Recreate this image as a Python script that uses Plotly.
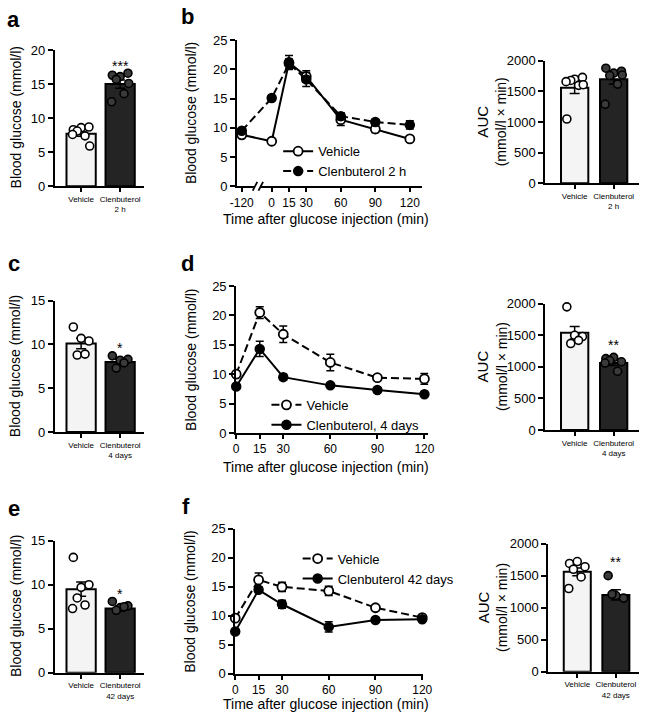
import plotly.graph_objects as go

W, H = 649, 721
FONT = "Liberation Sans, Arial, sans-serif"

# ---------------- data ----------------
groups = ["Vehicle", "Clenbuterol"]

# Panel a (fasting glucose, 2 h)
a_veh = [8.3, 8.6, 8.7, 8.1, 7.4, 7.6, 5.9]
a_clen = [16.3, 16.1, 16.6, 15.7, 13.6, 12.4, 15.1]
a_mean = [7.7, 15.0]
a_sem = [0.35, 0.6]

# Panel b (GTT, 2 h)
b_time = [-120, 0, 15, 30, 60, 90, 120]
b_veh = [8.8, 7.7, 21.2, 18.8, 11.4, 9.8, 8.1]
b_veh_err = [0.3, 0.3, 1.2, 1.0, 1.0, 0.6, 0.3]
b_clen = [9.5, 15.1, 21.0, 18.3, 12.0, 11.0, 10.5]
b_clen_err = [0.3, 0.4, 0.8, 1.2, 0.6, 0.4, 0.7]
b_auc_veh = [1050, 1700, 1730, 1680, 1600, 1660, 1610]
b_auc_clen = [1880, 1800, 1830, 1760, 1620, 1290, 1770]
b_auc_mean = [1560, 1700]
b_auc_sem = [95, 80]

# Panel c (fasting glucose, 4 days)
c_veh = [12.0, 10.7, 10.4, 8.8, 8.9]
c_clen = [8.7, 8.2, 8.3, 7.3, 7.9]
c_mean = [10.1, 8.0]
c_sem = [0.6, 0.3]

# Panel d (GTT, 4 days)
d_time = [0, 15, 30, 60, 90, 120]
d_veh = [10.0, 20.5, 16.8, 12.0, 9.4, 9.2]
d_veh_err = [0.5, 1.0, 1.4, 1.4, 0.4, 0.9]
d_clen = [7.9, 14.3, 9.5, 8.1, 7.3, 6.6]
d_clen_err = [0.3, 1.3, 0.5, 0.3, 0.3, 0.3]
d_auc_veh = [1950, 1500, 1480, 1370, 1420]
d_auc_clen = [1130, 1150, 1080, 1100, 930, 1060]
d_auc_mean = [1540, 1060]
d_auc_sem = [100, 40]

# Panel e (fasting glucose, 42 days)
e_veh = [13.1, 9.7, 10.0, 8.5, 7.7, 7.3]
e_clen = [8.1, 7.4, 7.6, 7.1, 7.5]
e_mean = [9.5, 7.3]
e_sem = [0.8, 0.3]

# Panel f (GTT, 42 days)
f_time = [0, 15, 30, 60, 90, 120]
f_veh = [9.6, 16.2, 15.0, 14.3, 11.4, 9.7]
f_veh_err = [0.4, 1.2, 0.8, 0.8, 0.3, 0.3]
f_clen = [7.3, 14.5, 12.0, 8.1, 9.3, 9.4]
f_clen_err = [0.3, 0.4, 0.7, 0.9, 0.3, 0.3]
f_auc_veh = [1690, 1720, 1640, 1600, 1480, 1300]
f_auc_clen = [1500, 1190, 1150, 1210]
f_auc_mean = [1560, 1200]
f_auc_sem = [60, 80]

# ---------------- helpers ----------------
def xd(x0, x1):
    return [x0 / W, x1 / W]

def yd(top, bottom):
    return [1 - bottom / H, 1 - top / H]

JIT = [-0.2, 0.0, 0.2, -0.1, 0.1, -0.22, 0.22]

def jitter(center, n):
    return [center + JIT[i % len(JIT)] for i in range(n)]

LIGHT = "#f4f4f4"
DARK = "#242424"
PTDARK = "#3a3a3a"
DASH = "8px,4px"

fig = go.Figure()
layout = dict(
    width=W, height=H, margin=dict(l=0, r=0, t=0, b=0),
    paper_bgcolor="white", plot_bgcolor="white", showlegend=True,
    font=dict(family=FONT, size=13, color="black"),
    annotations=[], shapes=[],
)

def axis_style(**kw):
    d = dict(showline=True, linecolor="black", linewidth=2, ticks="outside",
             ticklen=5, tickwidth=1.5, tickcolor="black", showgrid=False,
             zeroline=False, tickfont=dict(family=FONT, size=13, color="black"))
    d.update(kw)
    return d

def bar_panel(i, xdom, ydom, veh, clen, mean, sem, ymax, dtick, star, star_y, cat2, bw, xr):
    xa, ya = f"x{i}", f"y{i}"
    fig.add_trace(go.Bar(
        x=[0, 1], y=mean, width=bw, xaxis=xa, yaxis=ya, showlegend=False,
        marker=dict(color=[LIGHT, DARK], line=dict(color="black", width=2)),
        error_y=dict(type="data", array=sem, color="black", thickness=1.5, width=5),
    ))
    fig.add_trace(go.Scatter(
        x=jitter(0, len(veh)), y=veh, mode="markers", xaxis=xa, yaxis=ya, showlegend=False,
        cliponaxis=False,
        marker=dict(size=8, color="white", line=dict(color="black", width=1.6)),
    ))
    fig.add_trace(go.Scatter(
        x=jitter(1, len(clen)), y=clen, mode="markers", xaxis=xa, yaxis=ya, showlegend=False,
        cliponaxis=False,
        marker=dict(size=8, color=PTDARK, line=dict(color="black", width=1.6)),
    ))
    layout[f"xaxis{i}"] = axis_style(
        domain=xdom, range=xr, anchor=ya, tickvals=[0, 1], ticklen=4,
        ticktext=["Vehicle", "Clenbuterol<br>" + cat2],
        tickfont=dict(family=FONT, size=8, color="black"))
    layout[f"yaxis{i}"] = axis_style(domain=ydom, range=[0, ymax], anchor=xa,
                                     tickvals=list(range(0, int(ymax) + 1, dtick)))
    if star:
        layout["annotations"].append(dict(
            x=1, y=star_y, xref=xa, yref=ya, text=star, showarrow=False,
            font=dict(family=FONT, size=14, color="black")))

def line_panel(i, xdom, ydom, xpos, ticktext, xr, veh, veh_err, clen, clen_err,
               veh_dash, clen_dash, clen_name, legend):
    xa, ya = f"x{i}", f"y{i}"
    fig.add_trace(go.Scatter(
        x=xpos, y=veh, mode="lines+markers", name="Vehicle", xaxis=xa, yaxis=ya,
        legend=legend, cliponaxis=False,
        line=dict(color="black", width=2, dash=veh_dash),
        marker=dict(size=9, color="white", line=dict(color="black", width=1.8)),
        error_y=dict(type="data", array=veh_err, color="black", thickness=1.5, width=4),
    ))
    fig.add_trace(go.Scatter(
        x=xpos, y=clen, mode="lines+markers", name=clen_name, xaxis=xa, yaxis=ya,
        legend=legend, cliponaxis=False,
        line=dict(color="black", width=2, dash=clen_dash),
        marker=dict(size=9, color="black", line=dict(color="black", width=1.5)),
        error_y=dict(type="data", array=clen_err, color="black", thickness=1.5, width=4),
    ))
    layout[f"xaxis{i}"] = axis_style(domain=xdom, range=xr, anchor=ya, ticklen=4,
                                     tickvals=xpos, ticktext=ticktext,
                                     tickfont=dict(family=FONT, size=12, color="black"))
    layout[f"yaxis{i}"] = axis_style(domain=ydom, range=[0, 25], anchor=xa,
                                     tickvals=[0, 5, 10, 15, 20, 25])

# break mapping for panel b: -120 drawn left of the axis break
def b_pos(t):
    return t if t >= 0 else -26

# ---------------- row 1 ----------------
bar_panel(1, xd(49, 140), yd(44, 183), a_veh, a_clen, a_mean, a_sem, 20, 5,
          "***", 17.6, "2 h", 0.75, [-0.675, 1.6])
line_panel(2, xd(236, 426), yd(34, 183), [b_pos(t) for t in b_time],
           [str(t) for t in b_time], [-30, 131],
           b_veh, b_veh_err, b_clen, b_clen_err, "solid", DASH, "Clenbuterol 2 h", "legend")
bar_panel(3, xd(552, 648), yd(55, 180), b_auc_veh, b_auc_clen, b_auc_mean, b_auc_sem,
          2000, 500, "", 0, "2 h", 0.7, [-0.75, 1.65])

# ---------------- row 2 ----------------
bar_panel(4, xd(49, 140), yd(300, 434), c_veh, c_clen, c_mean, c_sem, 15, 5,
          "*", 9.6, "4 days", 0.75, [-0.675, 1.6])
line_panel(5, xd(235, 432), yd(285, 435), d_time, [str(t) for t in d_time], [0, 122.5],
           d_veh, d_veh_err, d_clen, d_clen_err, DASH, "solid", "Clenbuterol, 4 days", "legend2")
bar_panel(6, xd(552, 648), yd(303, 432), d_auc_veh, d_auc_clen, d_auc_mean, d_auc_sem,
          2000, 500, "**", 1350, "4 days", 0.7, [-0.75, 1.65])

# ---------------- row 3 ----------------
bar_panel(7, xd(49, 140), yd(545, 680), e_veh, e_clen, e_mean, e_sem, 15, 5,
          "*", 8.9, "42 days", 0.75, [-0.675, 1.6])
line_panel(8, xd(234, 427), yd(533, 681), f_time, [str(t) for t in f_time], [0, 120.8],
           f_veh, f_veh_err, f_clen, f_clen_err, DASH, "solid", "Clenbuterol 42 days", "legend3")
bar_panel(9, xd(555, 648), yd(548, 679), f_auc_veh, f_auc_clen, f_auc_mean, f_auc_sem,
          2000, 500, "**", 1720, "42 days", 0.7, [-0.75, 1.6])

# legends
leg_common = dict(bgcolor="rgba(0,0,0,0)", font=dict(family=FONT, size=13, color="black"),
                  itemwidth=30, xanchor="left", yanchor="top", tracegroupgap=0)
layout["legend"] = dict(x=278 / W, y=1 - 132 / H, **leg_common)
layout["legend2"] = dict(x=266 / W, y=1 - 391 / H, **leg_common)
layout["legend3"] = dict(x=298 / W, y=1 - 548 / H, **leg_common)

# axis break on panel b
layout["shapes"].append(dict(type="rect", xref="x2", yref="y2 domain", x0=-14.5, x1=-9.5,
                             y0=-0.04, y1=0.04, fillcolor="white", line=dict(width=0), layer="above"))
for x0 in (-16.5, -11.5):
    layout["shapes"].append(dict(type="line", xref="x2", yref="y2 domain", x0=x0, x1=x0 + 4,
                                 y0=-0.03, y1=0.03, line=dict(color="black", width=1.8), layer="above"))

# titles
def ann(x, y, text, size=14, angle=0, bold=False):
    layout["annotations"].append(dict(
        x=x / W, y=1 - y / H, xref="paper", yref="paper", text=f"<b>{text}</b>" if bold else text,
        showarrow=False, textangle=angle, xanchor="center", yanchor="middle",
        font=dict(family=FONT, size=size, color="black")))

for yc in (113, 367, 612):
    ann(9, yc, "Blood glucose (mmol/l)", angle=-90)
for yc in (108, 360, 607):
    ann(188, yc, "Blood glucose (mmol/l)", angle=-90)
for yc in (117, 367, 613):
    ann(497, yc, "<span style='font-size:15px'>AUC</span><br>(mmol/l × min)", size=14, angle=-90)
for yc in (216, 470, 712):
    ann(327, yc, "Time after glucose injection (min)")

for x, y, t in [(7, 13, "a"), (185, 10, "b"), (7, 262, "c"), (185, 262, "d"),
                (7, 512, "e"), (184, 510, "f")]:
    ann(x, y, t, size=22, bold=True)

fig.update_layout(**layout)
fig.write_html("out.html", config={"displayModeBar": False},
               post_script="document.body.style.margin='0';document.body.style.overflow='hidden';")
